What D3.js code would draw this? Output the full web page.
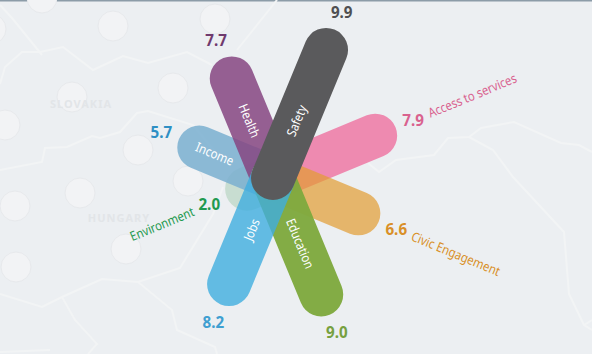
<!DOCTYPE html>
<html><head><meta charset="utf-8">
<script src="https://cdn.jsdelivr.net/npm/d3@7"></script>
<style>html,body{margin:0;padding:0;background:#eceff2}svg{display:block}text{font-family:"Noto Sans",sans-serif}</style>
</head><body><svg id="c" width="592" height="354"></svg>
<script>
const categories = ["Safety","Access to services","Civic Engagement","Education","Jobs","Environment","Income","Health"];
const values = [9.9,7.9,6.6,9.0,8.2,2.0,5.7,7.7];
const barColors = ["#5a5a5c","#ee8ab0","#e29c32","#7fa93f","#40aedf","#a3cbb0","#7aafd0","#864581"];
const barOpacity = [1,1,0.7,0.97,0.8,0.5,0.85,0.85];
const valueColors = ["#4f4f51","#d9628f","#d98f28","#76a040","#3f9fd1","#1f9a50","#2e8fc4","#6f3a6e"];
const drawOrder = ["Environment","Income","Health","Access to services","Civic Engagement","Education","Jobs","Safety"];
const insideLabels = ["Safety","Education","Jobs","Income","Health"];
const insideRadius = {Safety:62,Education:71,Jobs:56,Income:63,Health:62};
const countries = ["SLOVAKIA","HUNGARY"];
const borders = [
 [[0,84],[5,67],[22,52],[40,52],[63,47],[93,70],[123,56],[148,63],[187,52],[212,65]],
 [[0,5],[12,18],[42,55]],
 [[237,50],[277,0]],
 [[0,170],[42,162],[45,148],[67,147],[92,136],[100,138],[120,132],[137,113],[148,111],[193,125],[222,160]],
 [[223,187],[213,214],[180,268],[138,282],[102,279],[62,297],[42,307],[0,294]],
 [[138,282],[172,310],[177,330],[215,347],[217,354]],
 [[62,297],[75,320],[97,344],[88,354]],
 [[368,163],[379,172],[396,160],[434,155],[448,138],[469,137],[481,128],[514,122],[561,143],[579,145],[592,152]],
 [[469,137],[493,150],[513,177],[564,232],[569,294],[584,325],[592,330]],
 [[584,325],[592,320]],
 [[0,352],[50,350]]
];
const dots = [[42,-2],[113,26],[215,19],[173,88],[72,97],[138,150],[-9,29],[5,125],[188,181],[15,206],[80,193],[126,249],[16,267]];

const cx=273, cy=178, capR=22;
const svg=d3.select("#c");
svg.append("rect").attr("width",592).attr("height",354).attr("fill","#eceff2");
svg.append("rect").attr("width",592).attr("height",1.5).attr("fill","#8c9ca8");
const line=d3.line();
svg.selectAll("path.b").data(borders).join("path").attr("class","b").attr("d",line)
  .attr("fill","none").attr("stroke","#f2f4f5").attr("stroke-width",2);
svg.selectAll("circle.d").data(dots).join("circle").attr("class","d")
  .attr("cx",d=>d[0]).attr("cy",d=>d[1]).attr("r",15)
  .attr("fill","#f2f3f5").attr("stroke","#e7e9ec").attr("stroke-width",1);
svg.selectAll("text.c").data(countries).join("text").attr("class","c")
  .attr("x",(d,i)=>[81,119][i]).attr("y",(d,i)=>[108,222][i]).attr("text-anchor","middle")
  .attr("font-size",11).attr("font-weight",700).attr("letter-spacing",1).attr("fill","#e2e5e8").text(d=>d);

const r=d3.scaleLinear().domain([0,1]).range([0,14]);
const angle=d3.scaleBand().domain(categories).range([0,360]).paddingInner(0).paddingOuter(0);
const ang=n=>angle(n)+22.5;
const pt=(a,rad)=>[cx+rad*Math.sin(a*Math.PI/180),cy-rad*Math.cos(a*Math.PI/180)];
const textRot=a=>a>180?a-270:a-90;
const idx=n=>categories.indexOf(n);

svg.selectAll("line.bar").data(drawOrder).join("line").attr("class","bar")
  .attr("x1",cx).attr("y1",cy)
  .attr("x2",n=>pt(ang(n),r(values[idx(n)]))[0])
  .attr("y2",n=>pt(ang(n),r(values[idx(n)]))[1])
  .attr("stroke",n=>barColors[idx(n)]).attr("stroke-opacity",n=>barOpacity[idx(n)])
  .attr("stroke-width",capR*2).attr("stroke-linecap","round");

svg.selectAll("text.v").data(categories).join("text").attr("class","v")
  .attr("transform",n=>{const p=pt(ang(n),r(values[idx(n)])+capR+19);return `translate(${p[0]},${p[1]}) scale(0.95,1)`;})
  .attr("text-anchor","middle").attr("dy","0.36em").attr("font-size",16).attr("font-weight",700)
  .attr("fill",n=>valueColors[idx(n)]).text(n=>d3.format(".1f")(values[idx(n)]));

svg.selectAll("text.in").data(insideLabels).join("text").attr("class","in")
  .attr("transform",n=>{const a=ang(n),p=pt(a,insideRadius[n]);return `translate(${p[0]},${p[1]}) rotate(${textRot(a)}) scale(0.87,1)`;})
  .attr("text-anchor","middle").attr("dy","0.36em").attr("font-size",13).attr("fill","#fff").text(n=>n);

const outside=categories.filter(n=>!insideLabels.includes(n));
svg.selectAll("text.o").data(outside).join("text").attr("class","o")
  .attr("transform",n=>{
    const a=ang(n),p=pt(a,r(values[idx(n)])+capR+36);
    return `translate(${p[0]},${p[1]}) rotate(${textRot(a)}) scale(0.87,1)`;})
  .attr("text-anchor",n=>ang(n)>180?"end":"start").attr("dy","0.36em").attr("font-size",13)
  .attr("fill",n=>valueColors[idx(n)]).text(n=>n);
</script></body></html>
